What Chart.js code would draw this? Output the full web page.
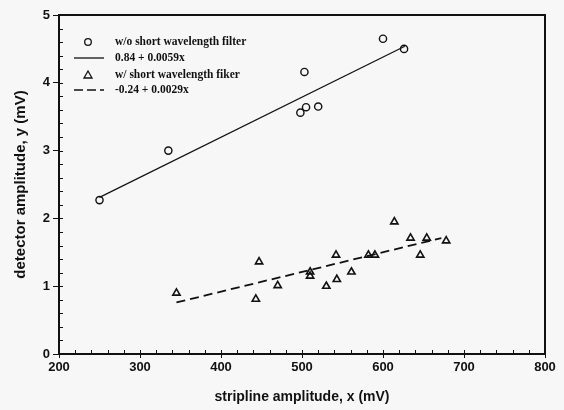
<!DOCTYPE html>
<html>
<head>
<meta charset="utf-8">
<script src="https://cdn.jsdelivr.net/npm/chart.js@4"></script>
<style>
  html, body { margin: 0; padding: 0; background: #f7f7f7; }
  #wrap { width: 564px; height: 410px; }
</style>
</head>
<body>
<div id="wrap"><canvas id="chart" width="564" height="410"></canvas></div>
<script>
// values
const noFilterX = [250, 335, 498, 505, 520, 503, 600, 626];
const noFilterY = [2.27, 3.00, 3.56, 3.64, 3.65, 4.16, 4.65, 4.50];
const filterX = [345, 443, 447, 470, 510, 510, 530, 542, 543, 561, 582, 590, 614, 634, 646, 654, 678];
const filterY = [0.90, 0.81, 1.36, 1.01, 1.21, 1.15, 1.00, 1.46, 1.10, 1.21, 1.46, 1.46, 1.95, 1.71, 1.46, 1.71, 1.67];
const fitNoFilter = [[250, 2.31], [627, 4.54]];
const fitFilter = [[345, 0.76], [672, 1.71]];
const labels = ['w/o short wavelength filter', '0.84 + 0.0059x', 'w/ short wavelength fiker', '-0.24 + 0.0029x'];

const pts = (xs, ys) => xs.map((x, i) => ({ x, y: ys[i] }));
const pairs = arr => arr.map(p => ({ x: p[0], y: p[1] }));

// minor inward ticks, box and legend
const extras = {
  id: 'extras',
  afterDraw(chart) {
    const { ctx, chartArea: a, scales: { x, y } } = chart;
    ctx.save();
    ctx.strokeStyle = '#111';
    ctx.lineWidth = 1;
    ctx.beginPath();
    for (let v = 200; v <= 800; v += 20) {
      const px = Math.round(x.getPixelForValue(v)) + 0.5;
      ctx.moveTo(px, a.bottom); ctx.lineTo(px, a.bottom - 4);
    }
    for (let v = 0; v <= 5.001; v += 0.2) {
      const py = Math.round(y.getPixelForValue(v)) + 0.5;
      ctx.moveTo(a.left, py); ctx.lineTo(a.left + 4, py);
    }
    ctx.stroke();
    ctx.lineWidth = 2;
    ctx.strokeRect(a.left, a.top, a.right - a.left, a.bottom - a.top);

    // legend
    ctx.font = 'bold 11.5px "Liberation Serif"';
    ctx.fillStyle = '#111';
    ctx.textBaseline = 'middle';
    const rows = [42, 58, 75, 90];
    rows.forEach((ry, i) => {
      ctx.lineWidth = 1.3;
      ctx.beginPath();
      if (i === 0) {
        ctx.arc(88, ry, 3.3, 0, Math.PI * 2);
      } else if (i === 2) {
        ctx.moveTo(88, ry - 4); ctx.lineTo(92, ry + 3); ctx.lineTo(84, ry + 3); ctx.closePath();
      } else {
        ctx.setLineDash(i === 3 ? [9, 4] : []);
        ctx.moveTo(74, ry); ctx.lineTo(104, ry);
      }
      ctx.stroke();
      ctx.setLineDash([]);
      ctx.fillText(labels[i], 115, ry);
    });
    ctx.restore();
  }
};

const axisFont = { family: '"Liberation Sans"', size: 13, weight: 'bold' };

new Chart(document.getElementById('chart'), {
  type: 'scatter',
  data: {
    datasets: [
      { label: labels[0], data: pts(noFilterX, noFilterY), pointStyle: 'circle', pointRadius: 3.6,
        borderColor: '#111', backgroundColor: 'rgba(0,0,0,0)', borderWidth: 1.4 },
      { label: labels[1], type: 'line', data: pairs(fitNoFilter), borderColor: '#111', borderWidth: 1.2,
        pointRadius: 0, fill: false },
      { label: labels[2], data: pts(filterX, filterY), pointStyle: 'triangle', pointRadius: 4.2,
        borderColor: '#111', backgroundColor: 'rgba(0,0,0,0)', borderWidth: 1.6 },
      { label: labels[3], type: 'line', data: pairs(fitFilter), borderColor: '#111', borderWidth: 1.8,
        borderDash: [9, 5], pointRadius: 0, fill: false }
    ]
  },
  options: {
    responsive: false,
    animation: false,
    layout: { padding: { top: 15, right: 19, left: 0, bottom: 0 } },
    plugins: { legend: { display: false }, tooltip: { enabled: false } },
    scales: {
      x: {
        type: 'linear', min: 200, max: 800,
        ticks: { stepSize: 100, color: '#111', font: axisFont, padding: 2 },
        grid: { drawOnChartArea: false, color: '#111', tickLength: 4 },
        border: { color: '#111', width: 2 },
        title: { display: true, text: 'stripline amplitude, x (mV)', color: '#111',
          font: { family: '"Liberation Sans"', size: 14, weight: 'bold' }, padding: { top: 8 } },
        afterFit: s => { s.height = 56; }
      },
      y: {
        type: 'linear', min: 0, max: 5,
        ticks: { stepSize: 1, color: '#111', font: axisFont, padding: 3 },
        grid: { drawOnChartArea: false, color: '#111', tickLength: 6 },
        border: { color: '#111', width: 2 },
        title: { display: true, text: 'detector amplitude, y (mV)', color: '#111',
          font: { family: '"Liberation Sans"', size: 15, weight: 'bold' }, padding: { top: 12 } },
        afterFit: s => { s.width = 59; }
      }
    }
  },
  plugins: [extras]
});
</script>
</body>
</html>
